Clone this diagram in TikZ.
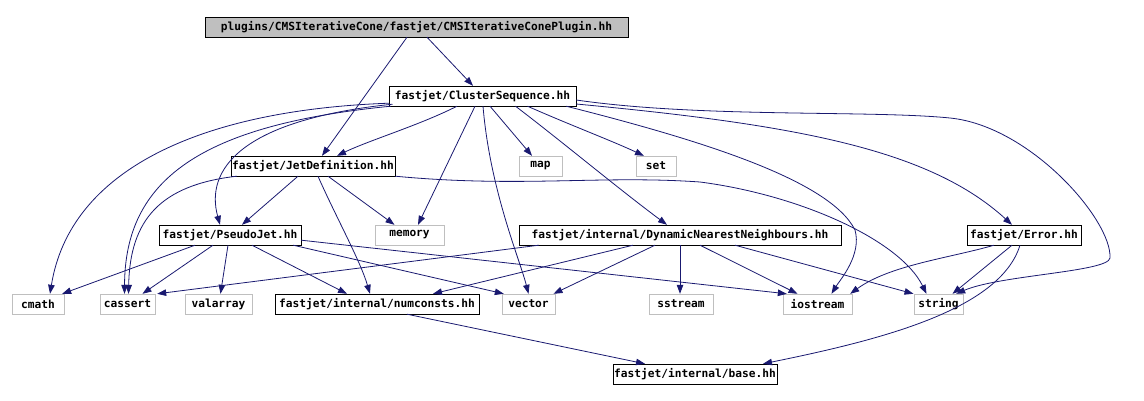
\documentclass[tikz,border=0pt]{standalone}
\usepackage{fontspec}
\usepackage{tikz}
\usetikzlibrary{arrows.meta}
\newfontfamily\dxfont{DejaVu Sans Mono}
\definecolor{dxblue}{RGB}{25,25,112}
\definecolor{dxgray}{RGB}{191,191,191}
\tikzset{
  hfile/.style={draw=black, fill=white, minimum height=20pt, inner sep=0pt,
    font=\dxfont\bfseries\fontsize{11.2}{12}\selectfont},
  sysfile/.style={hfile, draw=dxgray},
  rootfile/.style={hfile, fill=dxgray},
  incl/.style={draw=dxblue, line width=0.8pt, -{Triangle[length=9pt,width=6.5pt]}},
}

\begin{document}
\begin{tikzpicture}[x=1pt, y=-1pt]
  \useasboundingbox (0,0) rectangle (1144,401);
  \node[rootfile, minimum width=423pt] (root) at (416.5,27) {plugins/CMSIterativeCone/fastjet/CMSIterativeConePlugin.hh};
  \node[hfile, minimum width=187pt] (cs) at (482.5,96) {fastjet/ClusterSequence.hh};
  \node[hfile, minimum width=164pt] (jetdef) at (313,166) {fastjet/JetDefinition.hh};
  \node[sysfile, minimum width=43pt] (map) at (540.5,166) {map};
  \node[sysfile, minimum width=40pt] (set) at (656,166) {set};
  \node[hfile, minimum width=142pt] (pjet) at (230,235) {fastjet/PseudoJet.hh};
  \node[sysfile, minimum width=69pt] (memory) at (409.5,235) {memory};
  \node[hfile, minimum width=322pt] (dnn) at (680,235) {fastjet/internal/DynamicNearestNeighbours.hh};
  \node[hfile, minimum width=114pt] (error) at (1024,235) {fastjet/Error.hh};
  \node[sysfile, minimum width=52pt] (cmath) at (38,304) {cmath};
  \node[sysfile, minimum width=55pt] (cassert) at (127.5,304) {cassert};
  \node[sysfile, minimum width=67pt] (valarray) at (218.5,304) {valarray};
  \node[hfile, minimum width=204pt] (numconsts) at (377,304) {fastjet/internal/numconsts.hh};
  \node[sysfile, minimum width=53pt] (vector) at (528.5,304) {vector};
  \node[sysfile, minimum width=64pt] (sstream) at (681,304) {sstream};
  \node[sysfile, minimum width=69pt] (iostream) at (817.5,304) {iostream};
  \node[sysfile, minimum width=49pt] (string) at (938.5,304) {string};
  \node[hfile, minimum width=164pt] (base) at (695,374) {fastjet/internal/base.hh};

  \draw[incl] ([xshift=10.5pt]root.south) -- ([xshift=-9.5pt]cs.north);
  \draw[incl] ([xshift=-9.5pt]root.south) -- ([xshift=9pt]jetdef.north);

  \draw[incl] ([xshift=-25.5pt]cs.south) .. controls (420,125) and (370,140) .. ([xshift=24pt]jetdef.north);
  \draw[incl] ([xshift=-90pt,yshift=2pt]cs.south) .. controls (240,120) and (205,170) .. ([xshift=-10pt]pjet.north);
  \draw[incl] ([yshift=3pt]cs.south west) .. controls (200,110) and (70,170) .. ([xshift=12pt]cmath.north);
  \draw[incl] ([xshift=2pt]cs.south west) .. controls (200,125) and (125,180) .. ([xshift=-3pt]cassert.north);
  \draw[incl] ([xshift=-7.5pt]cs.south) -- ([xshift=8.5pt]memory.north);
  \draw[incl] ([xshift=0.5pt]cs.south) .. controls (490,190) and (520,260) .. (vector.north);
  \draw[incl] ([xshift=7.5pt]cs.south) -- ([xshift=-8.5pt]map.north);
  \draw[incl] ([xshift=45pt]cs.south) .. controls (570,125) and (610,140) .. ([xshift=-12pt]set.north);
  \draw[incl] ([xshift=33pt]cs.south) .. controls (560,140) and (620,190) .. ([xshift=-13pt]dnn.north);
  \draw[incl] ([xshift=-10pt]cs.south east) .. controls (700,140) and (830,180) .. (855,230)
    .. controls (862,255) and (840,280) .. ([xshift=14pt]iostream.north);
  \draw[incl] ([yshift=-4pt]cs.east) .. controls (700,118) and (870,110) .. (950,118)
    .. controls (1030,126) and (1112,220) .. (1110,258) .. controls (1108,272) and (1000,275) .. ([xshift=-7pt]string.north east);
  \draw[incl] ([yshift=-8pt]cs.east) .. controls (800,125) and (930,150) .. ([xshift=-12pt]error.north);

  \draw[incl] ([xshift=-15pt]jetdef.south) -- ([xshift=12pt]pjet.north);
  \draw[incl] ([xshift=6pt]jetdef.south west) .. controls (160,185) and (130,220) .. ([xshift=1pt]cassert.north);
  \draw[incl] ([xshift=15pt]jetdef.south) -- ([xshift=-15pt]memory.north);
  \draw[incl] ([xshift=5pt]jetdef.south) .. controls (335,215) and (360,260) .. ([xshift=-7pt]numconsts.north);
  \draw[incl] (jetdef.south east) .. controls (520,188) and (600,175) .. (700,182)
    .. controls (800,195) and (900,240) .. ([xshift=-12pt]string.north);

  \draw[incl] ([xshift=-35pt]pjet.south) -- ([xshift=-2pt]cmath.north east);
  \draw[incl] ([xshift=-17pt]pjet.south) -- ([xshift=15pt]cassert.north);
  \draw[incl] ([xshift=-2pt]pjet.south) -- ([xshift=2pt]valarray.north);
  \draw[incl] ([xshift=22pt]pjet.south) -- ([xshift=-30pt]numconsts.north);
  \draw[incl] ([xshift=-8pt]pjet.south east) -- ([xshift=2pt]vector.north west);
  \draw[incl] ([yshift=5pt]pjet.south east) -- ([xshift=4pt]iostream.north west);

  \draw[incl] ([xshift=20pt]dnn.south west) -- ([xshift=2pt]cassert.north east);
  \draw[incl] ([xshift=-47pt]dnn.south) -- ([xshift=56pt]numconsts.north);
  \draw[incl] ([xshift=-25pt]dnn.south) -- ([xshift=25pt]vector.north);
  \draw[incl] (dnn.south) -- (dnn.south |- sstream.north);
  \draw[incl] ([xshift=20pt]dnn.south) -- ([xshift=-20pt]iostream.north);
  \draw[incl] ([xshift=55pt]dnn.south) -- ([xshift=-25pt]string.north);

  \draw[incl] ([xshift=-30pt]error.south) .. controls (950,258) and (890,265) .. ([xshift=-2pt]iostream.north east);
  \draw[incl] ([xshift=-12pt]error.south) -- ([xshift=14pt]string.north);
  \draw[incl] ([xshift=-4pt]error.south) .. controls (1000,310) and (880,340) .. ([xshift=68pt]base.north);

  \draw[incl] ([xshift=30pt]numconsts.south) -- ([xshift=-50pt]base.north);
\end{tikzpicture}
\end{document}
